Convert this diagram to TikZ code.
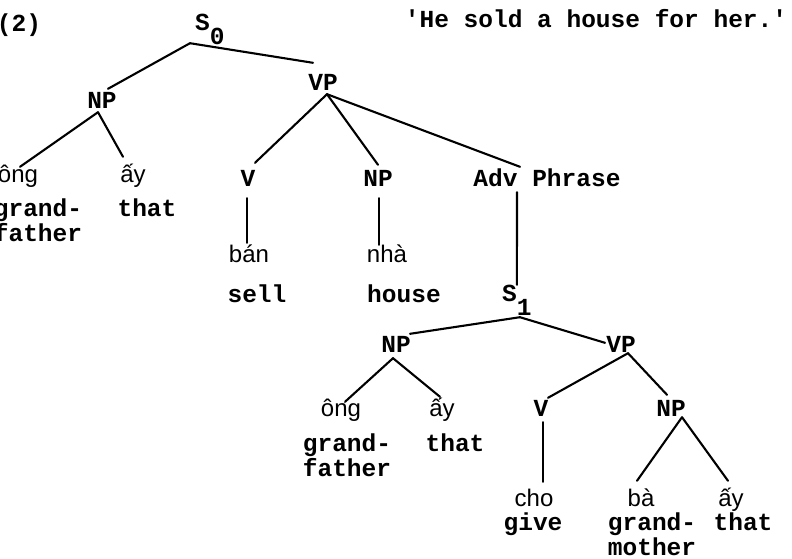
\documentclass[tikz,border=0pt]{standalone}
\usepackage{fontspec}
\setmonofont{Liberation Mono}
\newfontfamily\vietfont{Liberation Sans}
\begin{document}
\begin{tikzpicture}[x=1pt,y=-1pt,
  lab/.style={font=\ttfamily\bfseries\fontsize{24.5}{26}\selectfont, inner sep=0pt, text height=15pt, text depth=0pt, anchor=base},
  vw/.style={font=\vietfont\fontsize{24}{26}\selectfont, inner sep=0pt, text height=17pt, text depth=0pt, anchor=base},
  edge/.style={line width=2.1pt, line cap=round}]
\useasboundingbox (0,0) rectangle (792,558);
% labels
\node[lab] (num) at (19,31) {(2)};
\node[lab] (gloss) at (596,27) {'He sold a house for her.'};
\node[lab, anchor=base west] (s0) at (195,30) {S\raisebox{-14pt}{0}};
\node[lab] (np1) at (102,108) {NP};
\node[lab] (vp1) at (323,90) {VP};
\node[vw] (ong1) at (18,182) {ông};
\node[vw] (ay1) at (133,182) {ấy};
\node[lab] (gf1a) at (38,216) {grand-};
\node[lab] (gf1b) at (38,241) {father};
\node[lab] (that1) at (147,216) {that};
\node[lab] (v1) at (248,186) {V};
\node[lab] (np2) at (378,186) {NP};
\node[lab] (adv) at (547,186) {Adv Phrase};
\node[vw] (ban) at (249,262) {bán};
\node[lab] (sell) at (257,302) {sell};
\node[vw] (nha) at (387,262) {nhà};
\node[lab] (house) at (404,302) {house};
\node[lab, anchor=base west] (s1) at (502,301) {S\raisebox{-14pt}{1}};
\node[lab] (np3) at (396,352) {NP};
\node[lab] (vp2) at (621,352) {VP};
\node[vw] (ong2) at (341,416) {ông};
\node[vw] (ay2) at (442,416) {ấy};
\node[lab] (gf2a) at (347,451) {grand-};
\node[lab] (gf2b) at (347,476) {father};
\node[lab] (that2) at (455,451) {that};
\node[lab] (v2) at (541,416) {V};
\node[lab] (np4) at (671,416) {NP};
\node[vw] (cho) at (534,506) {cho};
\node[lab] (give) at (533,530) {give};
\node[vw] (ba) at (641,506) {bà};
\node[vw] (ay3) at (731,506) {ấy};
\node[lab] (gm3a) at (652,530) {grand-};
\node[lab] (gm3b) at (652,555) {mother};
\node[lab] (that3) at (743,530) {that};
% connectors
\draw[edge] ([shift={(-5,13)}]s0.south west) -- ([shift={(6,-4)}]np1.north);
\draw[edge] ([shift={(-5,13)}]s0.south west) -- ([shift={(-10,-12)}]vp1.north);
\draw[edge] ([shift={(-4,4)}]np1.south) -- ([shift={(2,2)}]ong1.north);
\draw[edge] ([shift={(-4,4)}]np1.south) -- ([shift={(-10,-8)}]ay1.north);
\draw[edge] ([shift={(4,4)}]vp1.south) -- ([shift={(7,-8)}]v1.north);
\draw[edge] ([shift={(4,4)}]vp1.south) -- ([shift={(0,-6)}]np2.north);
\draw[edge] ([shift={(4,4)}]vp1.south) -- ([shift={(-27,-4)}]adv.north);
\draw[edge] ([shift={(-1,12)}]v1.south) -- ([shift={(-2,-2)}]ban.north);
\draw[edge] ([shift={(1,12)}]np2.south) -- ([shift={(-8,0)}]nha.north);
\draw[edge] ([shift={(-30,6)}]adv.south) -- ([shift={(0,-1)}]s1.north);
\draw[edge] ([shift={(3,16)}]s1.south) -- ([shift={(14,-3)}]np3.north);
\draw[edge] ([shift={(3,16)}]s1.south) -- ([shift={(-16,6)}]vp2.north);
\draw[edge] ([shift={(-3,6)}]np3.south) -- ([shift={(4,3)}]ong2.north);
\draw[edge] ([shift={(-3,6)}]np3.south) -- ([shift={(-2,-2)}]ay2.north);
\draw[edge] ([shift={(7,1)}]vp2.south) -- ([shift={(7,-3)}]v2.north);
\draw[edge] ([shift={(7,1)}]vp2.south) -- ([shift={(-4,-6)}]np4.north);
\draw[edge] ([shift={(2,6)}]v2.south) -- ([shift={(9,-7)}]cho.north);
\draw[edge] ([shift={(11,1)}]np4.south) -- ([shift={(-4,-8)}]ba.north);
\draw[edge] ([shift={(11,1)}]np4.south) -- ([shift={(-3,-8)}]ay3.north);
\end{tikzpicture}
\end{document}
